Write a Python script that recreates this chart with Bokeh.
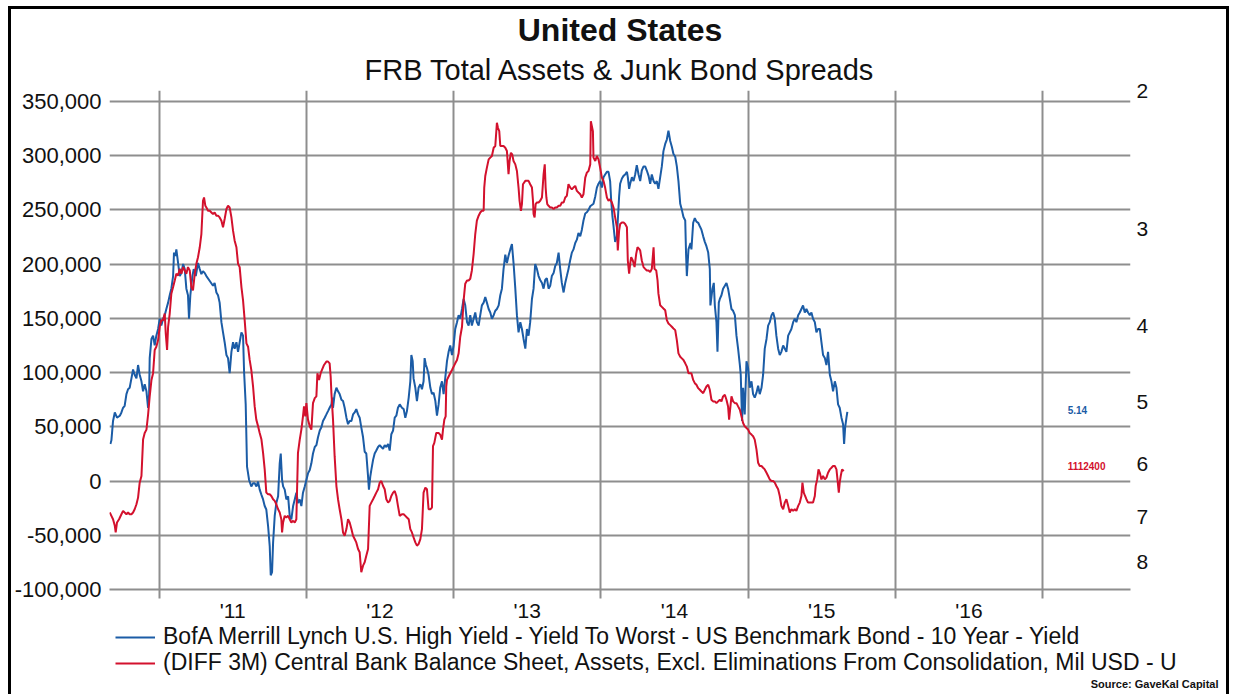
from bokeh.plotting import figure
from bokeh.layouts import column
from bokeh.models import (Range1d, LogScale, LinearAxis, FixedTicker, NumeralTickFormatter,
                          PrintfTickFormatter, CustomJSTickFormatter, Legend, LegendItem, Title, Grid, Label)
from bokeh.core.properties import value
from bokeh.embed import file_html
from bokeh.resources import INLINE

# ---------------- data ----------------
title_text = "United States"
subtitle_text = "FRB Total Assets & Junk Bond Spreads"
source_text = "Source: GaveKal Capital"
blue_name = "BofA Merrill Lynch U.S. High Yield - Yield To Worst - US Benchmark Bond - 10 Year - Yield"
red_name = "(DIFF 3M) Central Bank Balance Sheet, Assets, Excl. Eliminations From Consolidation, Mil USD - U"

year_bounds = [2011, 2012, 2013, 2014, 2015, 2016, 2017]
year_mids = [2011.5, 2012.5, 2013.5, 2014.5, 2015.5, 2016.5]
left_ticks = [-100000, -50000, 0, 50000, 100000, 150000, 200000, 250000, 300000, 350000]
right_ticks = [2, 3, 4, 5, 6, 7, 8]
last_labels = ["5.14", "1112400"]

# BofA ML HY yield-to-worst minus 10y benchmark (right axis, inverted log)
blue_t = [
    2010.669, 2010.676, 2010.687, 2010.699, 2010.714, 2010.733, 2010.744, 2010.755, 2010.766, 2010.778,
    2010.789, 2010.800, 2010.812, 2010.823, 2010.834, 2010.846, 2010.857, 2010.868, 2010.880, 2010.891,
    2010.902, 2010.914, 2010.925, 2010.932, 2010.936, 2010.948, 2010.959, 2010.970, 2010.981, 2010.993,
    2011.004, 2011.015, 2011.027, 2011.038, 2011.049, 2011.061, 2011.072, 2011.083, 2011.095, 2011.101,
    2011.110, 2011.117, 2011.129, 2011.140, 2011.151, 2011.163, 2011.174, 2011.185, 2011.196, 2011.203,
    2011.212, 2011.226, 2011.235, 2011.249, 2011.264, 2011.276, 2011.287, 2011.298, 2011.310, 2011.321,
    2011.344, 2011.366, 2011.377, 2011.389, 2011.400, 2011.411, 2011.423, 2011.434, 2011.445, 2011.457,
    2011.468, 2011.479, 2011.491, 2011.502, 2011.513, 2011.525, 2011.536, 2011.547, 2011.559, 2011.570,
    2011.577, 2011.588, 2011.597, 2011.611, 2011.626, 2011.638, 2011.649, 2011.661, 2011.672, 2011.683,
    2011.695, 2011.706, 2011.717, 2011.728, 2011.740, 2011.751, 2011.758, 2011.767, 2011.774, 2011.785,
    2011.796, 2011.808, 2011.819, 2011.826, 2011.835, 2011.842, 2011.853, 2011.864, 2011.876, 2011.887,
    2011.898, 2011.910, 2011.921, 2011.932, 2011.943, 2011.955, 2011.966, 2011.977, 2011.989, 2012.000,
    2012.011, 2012.023, 2012.034, 2012.045, 2012.057, 2012.068, 2012.079, 2012.091, 2012.102, 2012.113,
    2012.125, 2012.136, 2012.147, 2012.158, 2012.170, 2012.176, 2012.181, 2012.192, 2012.204, 2012.215,
    2012.226, 2012.238, 2012.249, 2012.260, 2012.272, 2012.283, 2012.294, 2012.306, 2012.317, 2012.328,
    2012.339, 2012.351, 2012.362, 2012.373, 2012.385, 2012.396, 2012.407, 2012.419, 2012.425, 2012.434,
    2012.441, 2012.453, 2012.464, 2012.475, 2012.487, 2012.498, 2012.509, 2012.521, 2012.532, 2012.543,
    2012.555, 2012.566, 2012.577, 2012.589, 2012.600, 2012.611, 2012.622, 2012.634, 2012.649, 2012.661,
    2012.672, 2012.683, 2012.695, 2012.706, 2012.713, 2012.722, 2012.728, 2012.740, 2012.751, 2012.762,
    2012.774, 2012.785, 2012.796, 2012.803, 2012.812, 2012.819, 2012.830, 2012.842, 2012.853, 2012.864,
    2012.876, 2012.887, 2012.898, 2012.909, 2012.921, 2012.932, 2012.943, 2012.955, 2012.966, 2012.977,
    2012.989, 2013.000, 2013.011, 2013.023, 2013.034, 2013.045, 2013.057, 2013.068, 2013.079, 2013.091,
    2013.102, 2013.113, 2013.124, 2013.136, 2013.147, 2013.158, 2013.170, 2013.181, 2013.192, 2013.204,
    2013.215, 2013.226, 2013.238, 2013.249, 2013.260, 2013.272, 2013.283, 2013.294, 2013.306, 2013.317,
    2013.328, 2013.339, 2013.351, 2013.362, 2013.373, 2013.385, 2013.396, 2013.407, 2013.419, 2013.430,
    2013.441, 2013.453, 2013.464, 2013.475, 2013.487, 2013.498, 2013.509, 2013.520, 2013.532, 2013.543,
    2013.554, 2013.566, 2013.577, 2013.588, 2013.600, 2013.611, 2013.622, 2013.633, 2013.645, 2013.656,
    2013.667, 2013.679, 2013.690, 2013.701, 2013.713, 2013.724, 2013.735, 2013.747, 2013.758, 2013.769,
    2013.780, 2013.792, 2013.803, 2013.814, 2013.826, 2013.837, 2013.848, 2013.860, 2013.871, 2013.882,
    2013.894, 2013.905, 2013.916, 2013.928, 2013.939, 2013.950, 2013.962, 2013.973, 2013.984, 2013.995,
    2014.007, 2014.018, 2014.029, 2014.041, 2014.052, 2014.063, 2014.070, 2014.079, 2014.086, 2014.097,
    2014.109, 2014.115, 2014.124, 2014.131, 2014.143, 2014.154, 2014.165, 2014.177, 2014.183, 2014.192,
    2014.199, 2014.211, 2014.222, 2014.233, 2014.244, 2014.256, 2014.267, 2014.278, 2014.290, 2014.301,
    2014.312, 2014.324, 2014.335, 2014.346, 2014.358, 2014.369, 2014.380, 2014.391, 2014.403, 2014.414,
    2014.425, 2014.437, 2014.448, 2014.459, 2014.471, 2014.482, 2014.493, 2014.505, 2014.516, 2014.527,
    2014.539, 2014.550, 2014.561, 2014.573, 2014.579, 2014.584, 2014.595, 2014.609, 2014.615, 2014.627,
    2014.638, 2014.649, 2014.661, 2014.672, 2014.683, 2014.695, 2014.706, 2014.717, 2014.729, 2014.740,
    2014.744, 2014.758, 2014.767, 2014.774, 2014.785, 2014.792, 2014.801, 2014.808, 2014.819, 2014.830,
    2014.842, 2014.853, 2014.864, 2014.876, 2014.887, 2014.898, 2014.910, 2014.921, 2014.932, 2014.944,
    2014.950, 2014.959, 2014.966, 2014.977, 2014.989, 2015.000, 2015.011, 2015.023, 2015.034, 2015.045,
    2015.057, 2015.068, 2015.079, 2015.091, 2015.102, 2015.113, 2015.125, 2015.136, 2015.147, 2015.159,
    2015.170, 2015.181, 2015.192, 2015.204, 2015.215, 2015.226, 2015.238, 2015.249, 2015.260, 2015.272,
    2015.283, 2015.294, 2015.306, 2015.317, 2015.328, 2015.340, 2015.351, 2015.362, 2015.373, 2015.385,
    2015.396, 2015.407, 2015.419, 2015.430, 2015.441, 2015.453, 2015.464, 2015.475, 2015.487, 2015.498,
    2015.509, 2015.521, 2015.532, 2015.543, 2015.555, 2015.566, 2015.577, 2015.589, 2015.600, 2015.611,
    2015.622, 2015.634, 2015.645, 2015.652, 2015.659, 2015.668, 2015.674,
]
blue_v = [
    5.65, 5.59, 5.28, 5.15, 5.23, 5.20, 5.15, 5.08, 5.05, 4.88,
    4.81, 4.79, 4.66, 4.54, 4.61, 4.66, 4.48, 4.61, 4.70, 4.84,
    4.74, 4.84, 5.08, 4.88, 4.39, 4.15, 4.11, 4.23, 4.11, 4.03,
    3.91, 3.99, 3.91, 3.87, 3.80, 3.73, 3.65, 3.58, 3.45, 3.22,
    3.25, 3.19, 3.32, 3.45, 3.42, 3.33, 3.38, 3.58, 3.65, 3.91,
    3.65, 3.45, 3.38, 3.45, 3.32, 3.38, 3.43, 3.40, 3.42, 3.45,
    3.50, 3.55, 3.52, 3.62, 3.65, 3.73, 3.95, 4.07, 4.19, 4.35,
    4.39, 4.59, 4.31, 4.19, 4.27, 4.19, 4.31, 4.19, 4.07, 4.11,
    4.57, 5.03, 6.04, 6.28, 6.40, 6.34, 6.34, 6.40, 6.31, 6.46,
    6.56, 6.65, 6.78, 6.85, 7.19, 7.62, 8.31, 8.23, 7.55, 6.98,
    6.72, 6.59, 5.98, 5.81, 6.28, 6.40, 6.46, 6.65, 6.59, 6.98,
    7.05, 6.78, 6.65, 6.52, 6.72, 6.65, 6.78, 6.52, 6.40, 6.28,
    6.16, 6.10, 5.98, 5.81, 5.70, 5.67, 5.54, 5.43, 5.38, 5.28,
    5.23, 5.18, 5.13, 5.08, 5.03, 4.93, 5.08, 4.88, 4.79, 4.84,
    4.88, 4.96, 4.98, 5.08, 5.23, 5.33, 5.28, 5.28, 5.18, 5.15,
    5.10, 5.18, 5.23, 5.38, 5.54, 5.78, 5.81, 6.22, 6.46, 6.22,
    6.10, 5.92, 5.81, 5.76, 5.70, 5.67, 5.70, 5.73, 5.67, 5.70,
    5.65, 5.76, 5.49, 5.43, 5.23, 5.20, 5.08, 5.03, 5.08, 5.10,
    5.23, 5.13, 4.93, 4.70, 4.35, 4.43, 4.66, 4.79, 4.98, 4.79,
    4.74, 4.81, 4.70, 4.39, 4.48, 4.52, 4.61, 4.79, 4.88, 4.86,
    4.98, 5.20, 5.03, 4.79, 4.70, 4.88, 4.66, 4.43, 4.31, 4.23,
    4.35, 4.23, 4.03, 3.95, 3.87, 3.91, 3.80, 3.69, 3.76, 3.95,
    3.99, 3.87, 3.99, 3.91, 3.84, 3.95, 3.99, 3.87, 3.76, 3.73,
    3.67, 3.73, 3.80, 3.84, 3.91, 3.87, 3.82, 3.80, 3.76, 3.65,
    3.58, 3.38, 3.24, 3.32, 3.25, 3.19, 3.14, 3.32, 3.58, 3.87,
    4.07, 3.95, 4.03, 4.15, 4.27, 4.03, 4.11, 3.95, 3.69, 3.58,
    3.33, 3.38, 3.45, 3.49, 3.52, 3.58, 3.49, 3.47, 3.58, 3.55,
    3.45, 3.42, 3.35, 3.32, 3.22, 3.38, 3.52, 3.62, 3.52, 3.45,
    3.38, 3.29, 3.22, 3.19, 3.13, 3.10, 3.04, 3.07, 3.01, 2.93,
    2.87, 2.86, 2.84, 2.81, 2.80, 2.79, 2.73, 2.66, 2.63, 2.61,
    2.66, 2.58, 2.56, 2.54, 2.54, 2.61, 2.76, 2.90, 2.98, 3.12,
    3.07, 2.93, 2.73, 2.63, 2.59, 2.57, 2.56, 2.54, 2.58, 2.67,
    2.63, 2.58, 2.61, 2.56, 2.49, 2.56, 2.61, 2.53, 2.50, 2.50,
    2.53, 2.57, 2.63, 2.56, 2.61, 2.63, 2.61, 2.67, 2.58, 2.50,
    2.39, 2.34, 2.31, 2.25, 2.32, 2.36, 2.41, 2.43, 2.50, 2.61,
    2.79, 2.84, 2.90, 2.93, 3.25, 3.45, 3.19, 3.13, 3.19, 2.95,
    2.91, 2.94, 2.95, 2.98, 3.01, 3.07, 3.12, 3.16, 3.22, 3.38,
    3.76, 3.58, 3.52, 3.76, 3.95, 4.31, 3.73, 3.69, 3.65, 3.58,
    3.55, 3.52, 3.58, 3.69, 3.80, 3.82, 3.87, 4.11, 4.27, 4.48,
    4.61, 5.28, 4.79, 5.18, 4.43, 4.52, 4.79, 4.70, 4.88, 4.93,
    4.86, 4.76, 4.88, 4.79, 4.61, 4.27, 4.15, 3.99, 3.95, 3.87,
    3.84, 3.91, 4.11, 4.27, 4.35, 4.31, 4.23, 4.27, 4.31, 4.11,
    4.07, 4.03, 3.95, 3.91, 3.95, 3.87, 3.84, 3.80, 3.76, 3.84,
    3.80, 3.84, 3.87, 3.84, 3.91, 3.95, 4.07, 4.03, 4.03, 4.19,
    4.35, 4.39, 4.48, 4.31, 4.61, 4.70, 4.84, 4.70, 4.79, 5.03,
    5.08, 5.23, 5.33, 5.65, 5.38, 5.23, 5.14,
]

# 3-month change of Fed balance sheet assets, Mil USD (left axis)
red_t = [
    2010.665, 2010.676, 2010.687, 2010.699, 2010.705, 2010.714, 2010.728, 2010.744, 2010.755, 2010.766,
    2010.778, 2010.789, 2010.800, 2010.812, 2010.823, 2010.834, 2010.846, 2010.857, 2010.868, 2010.880,
    2010.891, 2010.902, 2010.914, 2010.925, 2010.936, 2010.948, 2010.959, 2010.970, 2010.981, 2010.993,
    2011.004, 2011.015, 2011.027, 2011.038, 2011.045, 2011.054, 2011.061, 2011.072, 2011.083, 2011.095,
    2011.106, 2011.117, 2011.129, 2011.140, 2011.151, 2011.163, 2011.174, 2011.185, 2011.196, 2011.208,
    2011.219, 2011.230, 2011.242, 2011.253, 2011.264, 2011.276, 2011.287, 2011.298, 2011.305, 2011.314,
    2011.321, 2011.332, 2011.344, 2011.355, 2011.366, 2011.377, 2011.389, 2011.400, 2011.411, 2011.423,
    2011.434, 2011.445, 2011.457, 2011.468, 2011.479, 2011.491, 2011.502, 2011.513, 2011.525, 2011.536,
    2011.547, 2011.559, 2011.570, 2011.581, 2011.593, 2011.604, 2011.615, 2011.626, 2011.638, 2011.649,
    2011.660, 2011.672, 2011.683, 2011.695, 2011.706, 2011.717, 2011.728, 2011.740, 2011.751, 2011.762,
    2011.774, 2011.785, 2011.796, 2011.808, 2011.819, 2011.830, 2011.835, 2011.842, 2011.853, 2011.864,
    2011.876, 2011.887, 2011.898, 2011.910, 2011.921, 2011.932, 2011.943, 2011.955, 2011.966, 2011.977,
    2011.984, 2011.993, 2012.000, 2012.011, 2012.023, 2012.034, 2012.045, 2012.057, 2012.068, 2012.075,
    2012.086, 2012.097, 2012.106, 2012.120, 2012.136, 2012.147, 2012.158, 2012.165, 2012.170, 2012.181,
    2012.192, 2012.204, 2012.215, 2012.226, 2012.238, 2012.249, 2012.260, 2012.272, 2012.283, 2012.294,
    2012.306, 2012.317, 2012.328, 2012.339, 2012.351, 2012.362, 2012.373, 2012.385, 2012.396, 2012.407,
    2012.419, 2012.430, 2012.441, 2012.453, 2012.464, 2012.475, 2012.487, 2012.498, 2012.509, 2012.521,
    2012.532, 2012.543, 2012.555, 2012.566, 2012.577, 2012.589, 2012.600, 2012.611, 2012.622, 2012.634,
    2012.649, 2012.661, 2012.672, 2012.683, 2012.695, 2012.706, 2012.717, 2012.728, 2012.740, 2012.751,
    2012.762, 2012.774, 2012.785, 2012.796, 2012.808, 2012.819, 2012.830, 2012.842, 2012.853, 2012.860,
    2012.869, 2012.882, 2012.898, 2012.909, 2012.921, 2012.928, 2012.937, 2012.946, 2012.950, 2012.955,
    2012.966, 2012.977, 2012.989, 2013.000, 2013.011, 2013.023, 2013.034, 2013.045, 2013.057, 2013.068,
    2013.079, 2013.091, 2013.102, 2013.113, 2013.124, 2013.136, 2013.147, 2013.158, 2013.170, 2013.181,
    2013.192, 2013.204, 2013.208, 2013.215, 2013.226, 2013.238, 2013.249, 2013.260, 2013.272, 2013.283,
    2013.294, 2013.301, 2013.310, 2013.317, 2013.328, 2013.339, 2013.351, 2013.362, 2013.373, 2013.380,
    2013.389, 2013.398, 2013.407, 2013.419, 2013.430, 2013.441, 2013.448, 2013.457, 2013.464, 2013.471,
    2013.487, 2013.498, 2013.509, 2013.520, 2013.532, 2013.539, 2013.543, 2013.550, 2013.557, 2013.566,
    2013.577, 2013.588, 2013.600, 2013.611, 2013.619, 2013.625, 2013.630, 2013.636, 2013.645, 2013.656,
    2013.667, 2013.679, 2013.690, 2013.701, 2013.713, 2013.724, 2013.735, 2013.747, 2013.758, 2013.769,
    2013.780, 2013.792, 2013.803, 2013.814, 2013.826, 2013.837, 2013.848, 2013.860, 2013.871, 2013.882,
    2013.894, 2013.905, 2013.916, 2013.928, 2013.932, 2013.946, 2013.950, 2013.962, 2013.973, 2013.984,
    2013.995, 2014.007, 2014.018, 2014.029, 2014.041, 2014.052, 2014.063, 2014.075, 2014.086, 2014.097,
    2014.109, 2014.115, 2014.124, 2014.131, 2014.143, 2014.154, 2014.165, 2014.177, 2014.183, 2014.192,
    2014.199, 2014.206, 2014.217, 2014.229, 2014.240, 2014.249, 2014.260, 2014.267, 2014.278, 2014.290,
    2014.301, 2014.312, 2014.324, 2014.335, 2014.346, 2014.358, 2014.364, 2014.376, 2014.385, 2014.391,
    2014.403, 2014.414, 2014.425, 2014.437, 2014.448, 2014.459, 2014.471, 2014.482, 2014.493, 2014.505,
    2014.516, 2014.527, 2014.539, 2014.550, 2014.561, 2014.573, 2014.584, 2014.595, 2014.615, 2014.627,
    2014.638, 2014.649, 2014.661, 2014.672, 2014.683, 2014.695, 2014.706, 2014.717, 2014.729, 2014.740,
    2014.751, 2014.762, 2014.774, 2014.785, 2014.796, 2014.808, 2014.819, 2014.830, 2014.842, 2014.853,
    2014.864, 2014.871, 2014.880, 2014.887, 2014.898, 2014.910, 2014.921, 2014.932, 2014.944, 2014.955,
    2014.966, 2014.977, 2014.989, 2015.000, 2015.011, 2015.023, 2015.034, 2015.045, 2015.057, 2015.068,
    2015.079, 2015.091, 2015.102, 2015.113, 2015.125, 2015.136, 2015.147, 2015.159, 2015.170, 2015.181,
    2015.192, 2015.204, 2015.215, 2015.226, 2015.238, 2015.249, 2015.260, 2015.272, 2015.283, 2015.294,
    2015.306, 2015.317, 2015.328, 2015.340, 2015.351, 2015.362, 2015.369, 2015.378, 2015.387, 2015.396,
    2015.407, 2015.419, 2015.430, 2015.441, 2015.453, 2015.459, 2015.469, 2015.478, 2015.487, 2015.498,
    2015.509, 2015.521, 2015.532, 2015.543, 2015.555, 2015.566, 2015.577, 2015.589, 2015.600, 2015.607,
    2015.616, 2015.622, 2015.629, 2015.638, 2015.650,
]
red_v = [
    -29000, -32100, -35200, -41300, -47400, -38200, -35200, -30600, -27500, -29000,
    -30600, -29000, -30600, -30600, -29000, -26000, -21400, -15300, -1500, 4600,
    38200, 44300, 47400, 61100, 78000, 93200, 99400, 120800, 123800, 129900,
    142200, 148300, 148300, 154400, 136000, 120800, 142200, 154400, 172700, 178800,
    184900, 191100, 189500, 195600, 191100, 197200, 194100, 191100, 197200, 194100,
    178800, 175800, 191100, 200200, 206300, 215500, 227700, 258300, 261400, 253700,
    252200, 249100, 249100, 247600, 246100, 247600, 244600, 244600, 243000, 240000,
    233900, 241500, 250700, 253700, 252200, 243000, 230800, 221600, 215500, 200200,
    197200, 178800, 166600, 148300, 126900, 123800, 111600, 102400, 87100, 68800,
    56600, 50400, 44300, 38200, 26000, 10700, -10700, -12200, -12200, -13800,
    -16800, -18300, -21400, -26000, -29000, -35200, -47400, -38200, -32100, -33600,
    -32100, -35200, -38200, -36700, -38200, -35200, 26000, 38200, 47400, 59600,
    68800, 59600, 71800, 56600, 50400, 47400, 71800, 76400, 78000, 99400,
    93200, 99400, 102400, 107000, 110100, 110100, 108500, 96300, 81000, 56600,
    22900, -4600, -16800, -26000, -35200, -47400, -50400, -44300, -35200, -38200,
    -44300, -50400, -53500, -56600, -62700, -65700, -84100, -78000, -74900, -68800,
    -62700, -22900, -19900, -16800, -13800, -10700, -7600, -1500, 0, -4600,
    -7600, -16800, -19900, -18300, -13800, -10700, -9200, -13800, -22900, -32100,
    -30600, -30600, -32100, -33600, -35200, -44300, -47400, -52000, -56600, -59600,
    -58100, -53500, -44300, -10700, -6100, -7600, -26000, -26000, -24500, 32100,
    35200, 44300, 44300, 42800, 38200, 47400, 56600, 59600, 87100, 93200,
    96300, 99400, 102400, 105500, 108500, 111600, 117700, 133000, 142200, 166600,
    181900, 184900, 184900, 186500, 194100, 209400, 227700, 240000, 244600, 247600,
    249100, 249100, 270500, 281200, 288900, 296500, 298100, 299600, 307200, 308800,
    330200, 325600, 322500, 308800, 308800, 308800, 307200, 304200, 282800, 295000,
    302600, 301100, 295000, 291900, 285800, 270500, 258300, 249100, 255300, 273600,
    276700, 276700, 276700, 273600, 270500, 258300, 246100, 243000, 255300, 256800,
    256800, 258300, 261400, 282800, 291900, 270500, 261400, 255300, 253700, 252200,
    252200, 250700, 252200, 252200, 253700, 253700, 256800, 256800, 261400, 262900,
    273600, 270500, 269000, 270500, 272100, 267500, 266000, 264400, 261400, 264400,
    279700, 284300, 285800, 291900, 331700, 322500, 298100, 295000, 299600, 296500,
    288900, 279700, 276700, 270500, 261400, 258300, 259800, 256800, 252200, 243000,
    233900, 212500, 230800, 236900, 238400, 238400, 236900, 233900, 203300, 191100,
    200200, 206300, 203300, 197200, 209400, 215500, 214000, 212500, 203300, 197200,
    195600, 194100, 194100, 192600, 195600, 215500, 195600, 194100, 184900, 172700,
    162000, 160500, 159000, 157400, 148300, 145200, 143700, 142200, 140600, 139100,
    129900, 117700, 114600, 113100, 111600, 108500, 105500, 99400, 99400, 93200,
    90200, 88700, 85600, 84100, 82500, 81000, 84100, 87100, 88700, 84100,
    74900, 73400, 73400, 71800, 73400, 74900, 73400, 78000, 79500, 74900,
    68800, 56600, 68800, 78000, 73400, 71800, 71800, 68800, 65700, 59600,
    53500, 50400, 48900, 47400, 44300, 42800, 41300, 38200, 29000, 16800,
    13800, 13800, 12200, 10700, 7600, 4600, 1500, 0, 0, -1500,
    -4600, -7600, -13800, -22900, -26000, -19900, -16800, -22900, -29000, -26000,
    -27500, -26000, -27500, -22900, -19900, -13800, -1500, -10700, -13800, -16800,
    -19900, -19900, -19900, -19900, -13800, -4600, 1500, 10700, 7600, 1500,
    4600, 1500, 3100, 7600, 10700, 12200, 13800, 13800, 10700, 1500,
    -10700, -1500, 4600, 10700, 9200,
]

# ---------------- styling ----------------
FONT = "Liberation Sans"
BLUE = "#1b5ca6"
RED = "#d3112d"
GRID = "#8e8e8e"
TXT = "#111111"
W = 1215

# ---------------- main chart ----------------
p = figure(width=W, height=615, output_backend="svg", toolbar_location=None,
           x_axis_type=None, y_axis_type=None, frame_align=False,
           x_range=Range1d(2010.663, 2017.597), y_range=Range1d(-100000, 360000),
           min_border_left=97, min_border_right=96, min_border_top=78, min_border_bottom=35,
           background_fill_color="white", border_fill_color="white", outline_line_color=None)

p.extra_y_ranges = {"yld": Range1d(start=8.664, end=2.0)}
p.extra_y_scales = {"yld": LogScale()}

p.add_layout(Grid(dimension=0, ticker=FixedTicker(ticks=year_bounds),
                  grid_line_color=GRID, grid_line_width=2))
p.add_layout(Grid(dimension=1, ticker=FixedTicker(ticks=left_ticks),
                  grid_line_color=GRID, grid_line_width=2))

yl = LinearAxis(ticker=FixedTicker(ticks=left_ticks), formatter=NumeralTickFormatter(format="0,0"),
                axis_line_color=None, major_tick_line_color=None, minor_tick_line_color=None,
                major_label_standoff=2, major_label_text_font=FONT,
                major_label_text_font_size="22px", major_label_text_color=TXT)
p.add_layout(yl, "left")

yr = LinearAxis(y_range_name="yld", ticker=FixedTicker(ticks=right_ticks),
                formatter=PrintfTickFormatter(format="%d"),
                axis_line_color=None, major_tick_line_color=None, minor_tick_line_color=None,
                major_label_standoff=0, major_label_text_font=FONT,
                major_label_text_font_size="21px", major_label_text_color=TXT)
p.add_layout(yr, "right")

xb = LinearAxis(ticker=FixedTicker(ticks=year_mids, minor_ticks=year_bounds),
                formatter=CustomJSTickFormatter(code="return \"'\" + String(Math.floor(tick)).slice(2);"),
                axis_line_color=GRID, axis_line_width=2,
                major_tick_line_color=None, major_tick_out=9, major_tick_in=0,
                minor_tick_line_color=GRID, minor_tick_line_width=2, minor_tick_out=9, minor_tick_in=0,
                major_label_standoff=0, major_label_text_font=FONT,
                major_label_text_font_size="21px", major_label_text_color=TXT)
p.add_layout(xb, "below")

rb = p.line(blue_t, blue_v, y_range_name="yld", line_color=BLUE, line_width=2)
rr = p.line(red_t, red_v, line_color=RED, line_width=2)

lab_x = p.x_range.end - 0.427
p.text(x=[lab_x], y=[blue_v[-1]], text=[last_labels[0]], y_range_name="yld", y_offset=-2,
       text_color=BLUE, text_font=value(FONT), text_font_size="10px", text_font_style="bold",
       text_align="left", text_baseline="middle")
p.text(x=[lab_x], y=[red_v[-1]], text=[last_labels[1]], y_offset=-5,
       text_color=RED, text_font=value(FONT), text_font_size="10px", text_font_style="bold",
       text_align="left", text_baseline="middle")

p.add_layout(Title(text=subtitle_text, align="center", text_font=FONT, text_font_size="29px",
                   text_font_style="normal", text_color=TXT, standoff=9), "above")
p.add_layout(Title(text=title_text, align="center", text_font=FONT, text_font_size="32px",
                   text_font_style="bold", text_color=TXT, standoff=0), "above")

# ---------------- legend strip below the chart ----------------
q = figure(width=W, height=70, output_backend="svg", toolbar_location=None,
           x_axis_type=None, y_axis_type=None, frame_align=False,
           x_range=Range1d(0, 1), y_range=Range1d(0, 1),
           min_border=0, min_border_left=0, min_border_right=0, min_border_top=0, min_border_bottom=0,
           background_fill_color="white", border_fill_color="white", outline_line_color=None)
nan = float("nan")
qb = q.line(x=[nan], y=[nan], line_color=BLUE, line_width=2)
qr = q.line(x=[nan], y=[nan], line_color=RED, line_width=2)
leg_style = dict(orientation="vertical", border_line_color=None, background_fill_alpha=0,
                 margin=0, padding=0, spacing=0, glyph_width=40, glyph_height=26,
                 label_height=26, label_standoff=8, label_text_font=FONT,
                 label_text_font_size="23px", label_text_color=TXT)
q.add_layout(Legend(items=[LegendItem(label=blue_name, renderers=[qb])],
                    location=(104, 44), **leg_style), "center")
q.add_layout(Legend(items=[LegendItem(label=red_name, renderers=[qr])],
                    location=(104, 18), **leg_style), "center")
q.add_layout(Label(x=1207, y=11, x_units="screen", y_units="screen", text=source_text,
                   text_align="right", text_baseline="middle", text_font=FONT,
                   text_font_size="11px", text_font_style="bold", text_color=TXT))

layout = column(p, q, spacing=0)
layout.styles = {"margin-left": "8px", "margin-top": "6px",
                 "border-top": "3px solid #000", "border-left": "3px solid #000",
                 "border-right": "3px solid #000"}

open("out.html", "w").write(file_html(layout, INLINE, title="United States"))
